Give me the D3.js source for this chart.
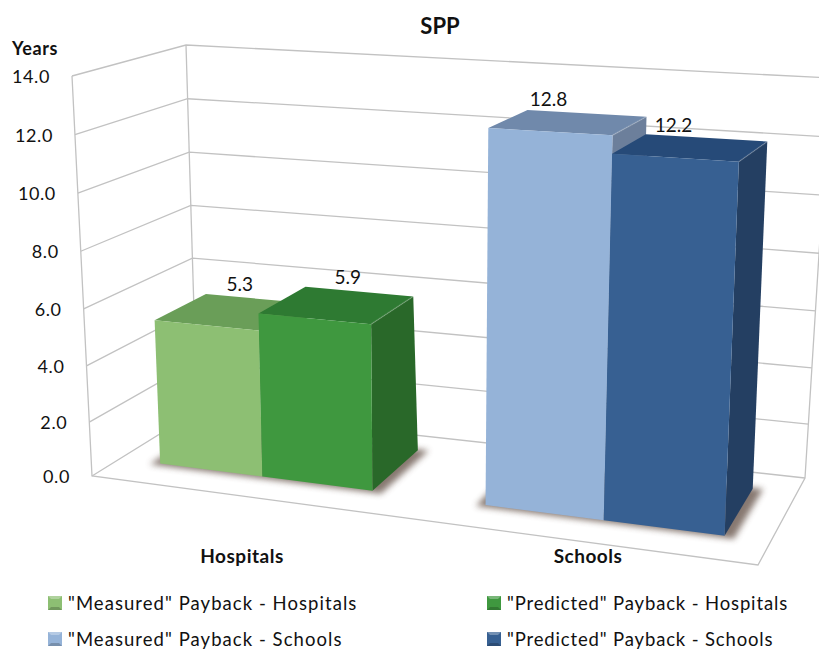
<!DOCTYPE html>
<html>
<head>
<meta charset="utf-8">
<script src="https://cdn.jsdelivr.net/npm/d3@7"></script>
<style>
  html, body { margin: 0; padding: 0; background: #fff; }
  text { font-family: Lato, "Open Sans", sans-serif; fill: #111; }
</style>
</head>
<body>
<div id="chart"></div>
<script>
const categories = ["Hospitals", "Schools"];
const seriesNames = ["\"Measured\" Payback", "\"Predicted\" Payback"];
const measured = [5.3, 12.8];
const predicted = [5.9, 12.2];
const yTicks = [0, 2, 4, 6, 8, 10, 12, 14];
const yTitle = "Years";
const chartTitle = "SPP";

(function chart() {
    const width = 819, height = 650;

    // corners of the 3d box as seen on the page, f/b = front/back, l/r, 0/1 = floor/top
    const box = {
        fl0: [92, 476], fr0: [758, 565], bl0: [197, 411], br0: [805, 478],
        fl1: [72, 76], fr1: [775, 112], bl1: [186, 45], br1: [830, 78]
    };

    const mix = (a, b, t) => [a[0] + (b[0] - a[0]) * t, a[1] + (b[1] - a[1]) * t];

    // u along the category axis, v up, w into the page, all 0..1
    function project(u, v, w) {
        const floor = mix(mix(box.fl0, box.fr0, u), mix(box.bl0, box.br0, u), w);
        const top = mix(mix(box.fl1, box.fr1, u), mix(box.bl1, box.br1, u), w);
        return mix(floor, top, v);
    }

    const y = d3.scalePow().exponent(1.03).domain([0, 14]).range([0, 1]);
    const barY = d3.scalePow().exponent(1.03).domain([0, 14]).range([0, 0.99]);
    const perspective = d3.scalePow().exponent(1.1).domain([0, 1]).range([0, 1]);

    const x0 = d3.scaleBand(categories, [0, 1]).paddingInner(0.33).paddingOuter(0.14).align(0.55);
    const x1 = d3.scaleBand([0, 1], [0, x0.bandwidth()]);
    // tops of the columns look a bit shallower than their footprint
    const depth = { front: 0.27, back: 0.82, backTop: 0.76 };

    const colors = [
        [{ front: "#8dbf73", top: "#6a9e58", side: "#5d8c4e" }, { front: "#3f983f", top: "#2e7a32", side: "#296829" }],
        [{ front: "#95b3d8", top: "#7089ab", side: "#6c7f9b" }, { front: "#376092", top: "#264a78", side: "#243f62" }]
    ];

    const svg = d3.select("#chart")
        .append("svg")
        .attr("width", width)
        .attr("height", height)
        .attr("viewBox", [0, 0, width, height])
        .style("display", "block");

    const blur = svg.append("defs").append("filter")
        .attr("id", "shadow-blur")
        .attr("x", "-10%").attr("y", "-10%").attr("width", "120%").attr("height", "120%");
    blur.append("feGaussianBlur").attr("stdDeviation", 3);

    const poly = pts => pts.map(p => p.join(",")).join(" ");

    // walls and floor
    const grid = svg.append("g")
        .attr("fill", "none")
        .attr("stroke", "#c2c2c2")
        .attr("stroke-width", 1.3);

    grid.selectAll(".wall-line")
        .data(yTicks)
        .join("polyline")
        .attr("points", d => poly([project(0, y(d), 0), project(0, y(d), 1), project(1, y(d), 1)]));

    grid.append("polyline").attr("points", poly([project(0, 1, 0), project(0, 0, 0), project(1, 0, 0), project(1, 0, 1), project(1, 1, 1)]));
    grid.append("line")
        .attr("x1", box.bl0[0]).attr("y1", box.bl0[1])
        .attr("x2", box.bl1[0]).attr("y2", box.bl1[1]);

    // ground shadows
    svg.append("g")
        .selectAll("polygon")
        .data(categories)
        .join("polygon")
        .attr("fill", "#7a6a62")
        .attr("opacity", 0.9)
        .attr("filter", "url(#shadow-blur)")
        .attr("points", c => {
            const a = perspective(x0(c)) - 0.012, b = perspective(x0(c) + x0.bandwidth()) + 0.016;
            const f = depth.front - 0.025, k = depth.back + 0.01;
            return poly([project(a, 0, f), project(b, 0, f), project(b, 0, k), project(a, 0, k)]);
        });

    // columns
    const bars = categories.flatMap((c, i) => [measured[i], predicted[i]].map((value, s) => ({
        category: c, value, color: colors[i][s],
        u0: perspective(x0(c) + x1(s)),
        u1: perspective(x0(c) + x1(s) + x1.bandwidth()),
        v: barY(value)
    })));

    const bar = svg.append("g")
        .selectAll("g")
        .data(bars)
        .join("g");

    bar.append("polygon")
        .attr("fill", d => d.color.top)
        .attr("points", d => poly([project(d.u0, d.v, depth.front), project(d.u1, d.v, depth.front), project(d.u1, d.v, depth.backTop), project(d.u0, d.v, depth.backTop)]));
    bar.append("polygon")
        .attr("fill", d => d.color.side)
        .attr("points", d => poly([project(d.u1, 0, depth.front), project(d.u1, d.v, depth.front), project(d.u1, d.v, depth.backTop), project(d.u1, 0, depth.back)]));
    bar.append("polygon")
        .attr("fill", d => d.color.front)
        .attr("points", d => poly([project(d.u0, 0, depth.front), project(d.u1, 0, depth.front), project(d.u1, d.v, depth.front), project(d.u0, d.v, depth.front)]));
    // light ridge where top meets side
    bar.append("line")
        .attr("stroke", "#fff")
        .attr("stroke-opacity", 0.16)
        .attr("stroke-width", 1.5)
        .attr("x1", d => project(d.u1, d.v, depth.front)[0])
        .attr("y1", d => project(d.u1, d.v, depth.front)[1])
        .attr("x2", d => project(d.u1, d.v, depth.backTop)[0])
        .attr("y2", d => project(d.u1, d.v, depth.backTop)[1]);

    // value labels, nudged up from the front top edge
    const labelShift = { Hospitals: [33, -42], Schools: [-2, -33] };
    svg.append("g")
        .selectAll("text")
        .data(bars)
        .join("text")
        .attr("text-anchor", "middle")
        .attr("dominant-baseline", "central")
        .attr("font-size", 19)
        .attr("transform", d => {
            const p = project((d.u0 + d.u1) / 2, d.v, depth.front);
            return `translate(${p[0] + labelShift[d.category][0]},${p[1] + labelShift[d.category][1]})`;
        })
        .text(d => d.value.toFixed(1));

    // value axis labels follow the slanted front edge
    svg.append("g")
        .selectAll("text")
        .data(yTicks)
        .join("text")
        .attr("text-anchor", "end")
        .attr("dominant-baseline", "central")
        .attr("font-size", 18)
        .attr("letter-spacing", 0.6)
        .attr("x", d => project(0, y(d), 0)[0] - 22)
        .attr("y", d => project(0, y(d), 0)[1])
        .text(d => d.toFixed(1));

    svg.append("text")
        .attr("x", 12).attr("y", 55)
        .attr("font-size", 18).attr("font-weight", 700)
        .attr("letter-spacing", 0.6)
        .text(yTitle);

    svg.append("text")
        .attr("x", 440).attr("y", 34)
        .attr("text-anchor", "middle")
        .attr("font-size", 22).attr("font-weight", 700)
        .text(chartTitle);

    // category labels
    const catX = { Hospitals: 242, Schools: 588 };
    svg.append("g")
        .selectAll("text")
        .data(categories)
        .join("text")
        .attr("x", d => catX[d]).attr("y", 563)
        .attr("text-anchor", "middle")
        .attr("font-size", 19).attr("font-weight", 700)
        .attr("letter-spacing", 0.5)
        .text(d => d);

    // legend
    const legendItems = categories.flatMap((c, i) => seriesNames.map((s, j) => ({
        label: `${s} - ${c}`, color: colors[i][j], col: j, row: i
    })));
    const legendX = d3.scaleOrdinal([0, 1], [48, 487]);
    const legendY = d3.scaleOrdinal([0, 1], [603, 639]);

    const legend = svg.append("g")
        .selectAll("g")
        .data(legendItems)
        .join("g")
        .attr("transform", d => `translate(${legendX(d.col)},${legendY(d.row)})`);

    legend.append("rect")
        .attr("x", 0).attr("y", -7).attr("width", 14).attr("height", 14)
        .attr("fill", d => d.color.front);
    legend.append("polygon").attr("points", "0,-7 14,-7 11,-4 3,-4").attr("fill", "#fff").attr("opacity", 0.3);
    legend.append("polygon").attr("points", "0,7 14,7 11,4 3,4").attr("fill", "#000").attr("opacity", 0.2);

    legend.append("text")
        .attr("x", 20)
        .attr("dominant-baseline", "central")
        .attr("font-size", 18.5)
        .attr("letter-spacing", d => d.col ? 0.85 : 1.05)
        .text(d => d.label);
})();
</script>
</body>
</html>
